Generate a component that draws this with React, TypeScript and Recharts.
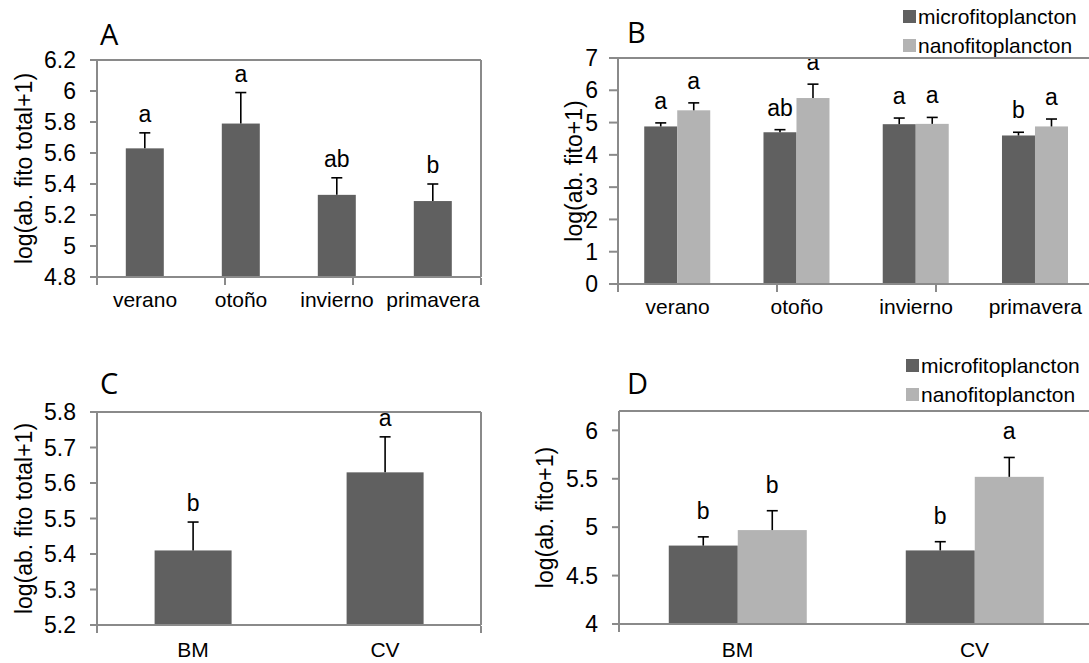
import { BarChart, Bar, XAxis, YAxis, Legend } from 'recharts'

const seasons = ['verano', 'otoño', 'invierno', 'primavera']
const sites = ['BM', 'CV']

// A: fitoplancton total por estación
const totalSeason = [5.63, 5.79, 5.33, 5.29]
const totalSeasonErr = [0.1, 0.2, 0.11, 0.11]
const totalSeasonLetters = ['a', 'a', 'ab', 'b']

// B: micro / nano por estación
const microSeason = [4.88, 4.7, 4.95, 4.6]
const microSeasonErr = [0.11, 0.08, 0.19, 0.1]
const microSeasonLetters = ['a', 'ab', 'a', 'b']
const nanoSeason = [5.38, 5.76, 4.96, 4.88]
const nanoSeasonErr = [0.23, 0.43, 0.2, 0.23]
const nanoSeasonLetters = ['a', 'a', 'a', 'a']

// C: fitoplancton total por sitio
const totalSite = [5.41, 5.63]
const totalSiteErr = [0.08, 0.1]
const totalSiteLetters = ['b', 'a']

// D: micro / nano por sitio
const microSite = [4.81, 4.76]
const microSiteErr = [0.09, 0.09]
const microSiteLetters = ['b', 'b']
const nanoSite = [4.97, 5.52]
const nanoSiteErr = [0.2, 0.2]
const nanoSiteLetters = ['b', 'a']

const ticksA = [4.8, 5, 5.2, 5.4, 5.6, 5.8, 6, 6.2]
const ticksB = [0, 1, 2, 3, 4, 5, 6, 7]
const ticksC = [5.2, 5.3, 5.4, 5.5, 5.6, 5.7, 5.8]
const ticksD = [4, 4.5, 5, 5.5, 6]

const FONT = '"Liberation Sans", Arial, sans-serif'
const AXIS = '#8a8a8a'
const DARK = '#606060'
const LIGHT = '#b3b3b3'

const dataA = seasons.map((name, i) => ({
  name, v: totalSeason[i], vErr: totalSeasonErr[i], vLet: totalSeasonLetters[i],
}))
const dataB = seasons.map((name, i) => ({
  name,
  m: microSeason[i], mErr: microSeasonErr[i], mLet: microSeasonLetters[i],
  n: nanoSeason[i], nErr: nanoSeasonErr[i], nLet: nanoSeasonLetters[i],
}))
const dataC = sites.map((name, i) => ({
  name, v: totalSite[i], vErr: totalSiteErr[i], vLet: totalSiteLetters[i],
}))
const dataD = sites.map((name, i) => ({
  name,
  m: microSite[i], mErr: microSiteErr[i], mLet: microSiteLetters[i],
  n: nanoSite[i], nErr: nanoSiteErr[i], nLet: nanoSiteLetters[i],
}))

// bar + one-sided error whisker + significance letter
function whisker(key: string, base: number, gap: number) {
  return (p: any) => {
    const { x, y, width, height, fill, payload } = p
    const v = payload[key]
    const ppu = height / (v - base)
    const top = y - payload[key + 'Err'] * ppu
    const cx = x + width / 2
    return (
      <g>
        <rect x={x} y={y} width={width} height={height} fill={fill} />
        <line x1={cx} y1={y} x2={cx} y2={top} stroke="#000" strokeWidth={1.6} />
        <line x1={cx - 5.5} y1={top} x2={cx + 5.5} y2={top} stroke="#000" strokeWidth={1.6} />
        <text x={cx} y={top - gap} textAnchor="middle" fontSize={23} fontFamily={FONT} fill="#000">
          {payload[key + 'Let']}
        </text>
      </g>
    )
  }
}

const legendContent = ({ payload }: any) => (
  <div style={{ fontFamily: FONT, fontSize: 21, color: '#000' }}>
    {(payload || []).map((p: any) => (
      <div key={p.value} style={{ display: 'flex', alignItems: 'center', height: 29 }}>
        <span style={{ width: 13, height: 13, background: p.color, marginRight: 2 }} />
        <span>{p.value}</span>
      </div>
    ))}
  </div>
)

const tickStyle = { fill: '#000', fontSize: 23, fontFamily: FONT }
const catStyle = { fill: '#000', fontSize: 21, fontFamily: FONT }
const labelStyle = { textAnchor: 'middle', fontSize: 23, fontFamily: FONT, fill: '#000' }
const line = { stroke: AXIS, strokeWidth: 2 }
const noLabel = () => <g />

// tick marks between categories, like the spreadsheet original
function edgeAxis(n: number) {
  return (
    <XAxis
      xAxisId="edges"
      type="number"
      domain={[0, n]}
      ticks={Array.from({ length: n + 1 }, (_, i) => i)}
      interval={0}
      tick={noLabel}
      axisLine={false}
      tickLine={line}
      tickSize={7}
      height={1}
    />
  )
}

function frame() {
  return [
    <XAxis key="t" xAxisId="top" orientation="top" type="number" domain={[0, 1]} height={1}
      tick={false} tickLine={false} axisLine={line} />,
    <YAxis key="r" yAxisId="right" orientation="right" type="number" domain={[0, 1]} width={1}
      tick={false} tickLine={false} axisLine={line} />,
  ]
}

function Title({ text, left, top }: { text: string; left: number; top: number }) {
  return (
    <div style={{ position: 'absolute', left, top, fontFamily: '"Open Sans", sans-serif', fontSize: 29, lineHeight: 1 }}>
      {text}
    </div>
  )
}

export default function App() {
  return (
    <div style={{ position: 'absolute', left: 0, top: 0, width: 1089, height: 663, overflow: 'hidden', background: '#fff' }}>
      {/* A */}
      <div style={{ position: 'absolute', left: 0, top: 0 }}>
        <BarChart width={545} height={320} data={dataA} margin={{ top: 59, right: 63, bottom: 41, left: 0 }}
          barCategoryGap="30%">
          <XAxis dataKey="name" height={1} tickLine={false} tickSize={0} tickMargin={15} interval={0}
            axisLine={line} tick={catStyle} />
          {edgeAxis(seasons.length)}
          {frame()}
          <YAxis width={97} domain={[4.8, 6.2]} ticks={ticksA} interval={0} tickSize={7} tickMargin={14}
            tick={tickStyle} axisLine={line} tickLine={line}
            label={{ value: 'log(ab. fito total+1)', angle: -90, position: 'insideLeft', offset: 24, style: labelStyle }} />
          <Bar dataKey="v" fill={DARK} isAnimationActive={false} shape={whisker('v', 4.8, 11)} />
        </BarChart>
      </div>
      <Title text="A" left={100} top={19} />

      {/* B */}
      <div style={{ position: 'absolute', left: 545, top: 0 }}>
        <BarChart width={550} height={320} data={dataB} margin={{ top: 57, right: 0, bottom: 34, left: 0 }}
          barCategoryGap="22%" barGap={0}>
          <XAxis dataKey="name" height={1} tickLine={false} tickSize={0} tickMargin={15} interval={0}
            axisLine={line} tick={catStyle} />
          {edgeAxis(seasons.length)}
          <XAxis xAxisId="top" orientation="top" type="number" domain={[0, 1]} height={1}
            tick={false} tickLine={false} axisLine={line} />
          <YAxis width={73} domain={[0, 7]} ticks={ticksB} interval={0} tickSize={9} tickMargin={11}
            tick={tickStyle} axisLine={line} tickLine={line}
            label={{ value: 'log(ab. fito+1)', angle: -90, position: 'insideLeft', offset: 29, style: labelStyle }} />
          <Legend layout="vertical" align="center" verticalAlign="middle" content={legendContent}
            wrapperStyle={{ top: 2, left: 358, width: 200 }} />
          <Bar dataKey="m" name="microfitoplancton" fill={DARK} isAnimationActive={false} shape={whisker('m', 0, 14)} />
          <Bar dataKey="n" name="nanofitoplancton" fill={LIGHT} isAnimationActive={false} shape={whisker('n', 0, 14)} />
        </BarChart>
      </div>
      <Title text="B" left={627} top={17} />

      {/* C */}
      <div style={{ position: 'absolute', left: 0, top: 320 }}>
        <BarChart width={545} height={343} data={dataC} margin={{ top: 91, right: 63, bottom: 36, left: 0 }}
          barCategoryGap="30%">
          <XAxis dataKey="name" height={1} tickLine={false} tickSize={0} tickMargin={17} interval={0}
            axisLine={line} tick={catStyle} />
          {edgeAxis(sites.length)}
          {frame()}
          <YAxis width={97} domain={[5.2, 5.8]} ticks={ticksC} interval={0} tickSize={7} tickMargin={14}
            tick={tickStyle} axisLine={line} tickLine={line}
            label={{ value: 'log(ab. fito total+1)', angle: -90, position: 'insideLeft', offset: 24, style: labelStyle }} />
          <Bar dataKey="v" fill={DARK} isAnimationActive={false} shape={whisker('v', 5.2, 11)} />
        </BarChart>
      </div>
      <Title text="C" left={100} top={368} />

      {/* D */}
      <div style={{ position: 'absolute', left: 520, top: 320 }}>
        <BarChart width={573} height={343} data={dataD} margin={{ top: 90, right: 0, bottom: 37, left: 0 }}
          barCategoryGap="21%" barGap={0}>
          <XAxis dataKey="name" height={1} tickLine={false} tickSize={0} tickMargin={18} interval={0}
            axisLine={line} tick={catStyle} />
          {edgeAxis(sites.length)}
          <XAxis xAxisId="top" orientation="top" type="number" domain={[0, 1]} height={1}
            tick={false} tickLine={false} axisLine={line} />
          <YAxis width={99} domain={[4, 6.2]} ticks={ticksD} interval={0} tickSize={7} tickMargin={14}
            tick={tickStyle} axisLine={line} tickLine={line}
            label={{ value: 'log(ab. fito+1)', angle: -90, position: 'insideLeft', offset: 25, style: labelStyle }} />
          <Legend layout="vertical" align="center" verticalAlign="middle" content={legendContent}
            wrapperStyle={{ top: 31, left: 386, width: 200 }} />
          <Bar dataKey="m" name="microfitoplancton" fill={DARK} isAnimationActive={false} shape={whisker('m', 4, 18)} />
          <Bar dataKey="n" name="nanofitoplancton" fill={LIGHT} isAnimationActive={false} shape={whisker('n', 4, 18)} />
        </BarChart>
      </div>
      <Title text="D" left={627} top={368} />
    </div>
  )
}
